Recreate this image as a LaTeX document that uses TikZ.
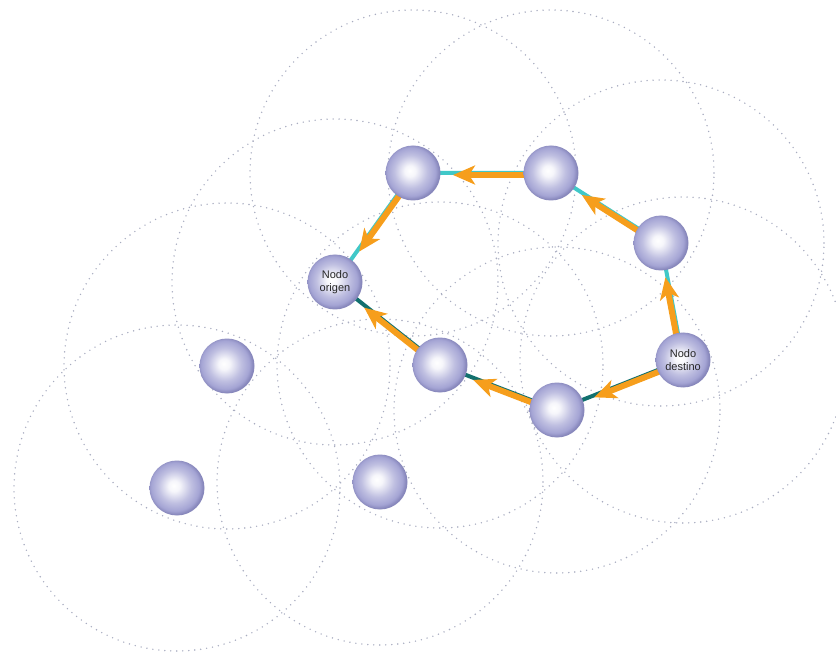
\documentclass[tikz,border=0pt]{standalone}
\usepackage{fontspec}
\setmainfont{Liberation Sans}
\usetikzlibrary{calc,arrows.meta,backgrounds}
\definecolor{lav}{RGB}{164,164,212}
\definecolor{lavdark}{RGB}{136,136,188}
\definecolor{dotcol}{RGB}{168,172,192}
\definecolor{cyanline}{RGB}{64,200,200}
\definecolor{tealline}{RGB}{18,112,110}
\definecolor{orangearr}{RGB}{246,158,28}
\pgfdeclareradialshading{sphereshade}{\pgfpoint{-3bp}{2bp}}{color(0bp)=(white); color(5bp)=(white!90!lav); color(15bp)=(lav!70!white); color(22bp)=(lav); color(25bp)=(lavdark); color(50bp)=(lavdark)}
\tikzset{
  spherenode/.style={circle, minimum size=55pt, inner sep=0pt, shading=sphereshade,
    align=center, font=\fontsize{11}{13}\selectfont, text=black!85},
  rangecircle/.style={draw=dotcol, line width=1.6pt, line cap=round, dash pattern=on 0pt off 6pt},
  upline/.style={draw=cyanline, line width=4pt},
  lowline/.style={draw=tealline, line width=4pt},
  replyarr/.style={draw=orangearr, line width=6pt, -{Stealth[length=22pt,width=19pt,inset=6pt]}},
}
\newcommand{\replyarrow}[2]{\draw[replyarr] ($(#1)!0.18!(#2)!2pt!90:(#2)$) -- ($(#1)!0.71!(#2)!2pt!90:(#2)$);}
\begin{document}
\begin{tikzpicture}[x=1pt,y=-1pt]
\useasboundingbox (0,0) rectangle (836,655);
% nodes
\node[spherenode] (A) at (413,173) {};
\node[spherenode] (B) at (551,173) {};
\node[spherenode] (C) at (661,243) {};
\node[spherenode] (O) at (335,282) {Nodo\\origen};
\node[spherenode] (T) at (683,360) {Nodo\\destino};
\node[spherenode] (D) at (440,365) {};
\node[spherenode] (E) at (557,410) {};
\node[spherenode] (F) at (227,366) {};
\node[spherenode] (G) at (177,488) {};
\node[spherenode] (H) at (380,482) {};
\begin{scope}[on background layer]
  \clip (0,0) rectangle (836,655);
  \foreach \n in {A,B,C,O,T,D,E,F,G,H}
    \draw[rangecircle] (\n.center) circle[radius=163pt];
  % route lines
  \draw[upline] (O.center) -- (A.center) -- (B.center) -- (C.center) -- (T.center);
  \draw[lowline] (O.center) -- (D.center) -- (E.center) -- (T.center);
  % reply arrows
  \replyarrow{T}{C}
  \replyarrow{C}{B}
  \replyarrow{B}{A}
  \replyarrow{A}{O}
  \replyarrow{T}{E}
  \replyarrow{E}{D}
  \replyarrow{D}{O}
\end{scope}
\end{tikzpicture}
\end{document}
